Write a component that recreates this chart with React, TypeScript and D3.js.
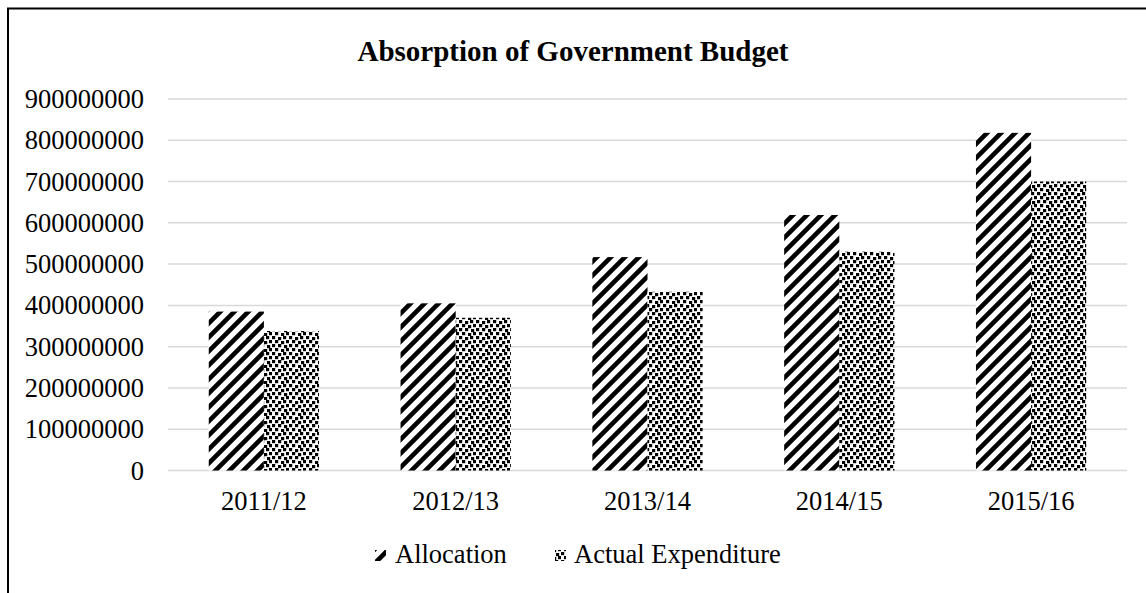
import React from "react";
import * as d3 from "d3";

const categories = ["2011/12", "2012/13", "2013/14", "2014/15", "2015/16"];
const allocation = [385000000, 405000000, 517000000, 619000000, 818000000];
const actualExpenditure = [338000000, 370000000, 433000000, 530000000, 700000000];
const seriesNames = ["Allocation", "Actual Expenditure"];
const yTicks = [0, 100000000, 200000000, 300000000, 400000000, 500000000, 600000000, 700000000, 800000000, 900000000];

const W = 1146;
const H = 593;
const plot = { left: 168, right: 1127, top: 99, bottom: 470.5 };
const FONT = "'Liberation Serif', 'Times New Roman', serif";
const txt = { fontFamily: FONT };

export default function App() {
  const x = d3.scaleBand<string>().domain(categories).range([plot.left, plot.right]).paddingInner(0).paddingOuter(0);
  const y = d3.scaleLinear().domain([0, 900000000]).range([plot.bottom, plot.top]);
  const barW = x.bandwidth() * 0.2875;
  const series = [
    { name: seriesNames[0], values: allocation, fill: "url(#diag)" },
    { name: seriesNames[1], values: actualExpenditure, fill: "url(#confetti)" },
  ];
  const confettiDots: [number, number][] = [
    [0, 0], [6, 1], [11, 0], [3, 4], [9, 5], [14, 4],
    [0, 8], [6, 8], [12, 9], [3, 12], [9, 13], [14, 12],
  ];
  return (
    <svg width={W} height={H} style={{ position: "absolute", left: 0, top: 0, background: "#fff", fontFamily: FONT }}>
      <defs>
        <pattern id="diag" patternUnits="userSpaceOnUse" width={14} height={14}>
          <rect width={14} height={14} fill="#fff" />
          <path d="M-2,2 L2,-2 M0,14 L14,0 M12,16 L16,12" stroke="#000" strokeWidth={4.6} />
        </pattern>
        <pattern id="confetti" patternUnits="userSpaceOnUse" width={17} height={16}>
          <rect width={17} height={16} fill="#fff" />
          {confettiDots.map(([cx, cy], i) => (
            <rect key={i} x={cx} y={cy} width={3.2} height={3.2} fill="#000" />
          ))}
        </pattern>
      </defs>
      <rect x={0} y={0} width={W} height={H} fill="#fff" />
      <path d={`M8,${H} L8,8.5 L${W},8.5`} fill="none" stroke="#000" strokeWidth={2} />
      <text x={573} y={61} textAnchor="middle" fontSize={29} fontWeight="bold" fill="#000" style={txt}>
        Absorption of Government Budget
      </text>
      {yTicks.map((t) => (
        <g key={t}>
          <line x1={plot.left} x2={plot.right} y1={y(t)} y2={y(t)} stroke="#d9d9d9" strokeWidth={1.5} />
          <text x={144} y={y(t) + 9} textAnchor="end" fontSize={26.5} fill="#000" style={txt}>
            {t}
          </text>
        </g>
      ))}
      {categories.map((c, i) => {
        const cx = (x(c) as number) + x.bandwidth() / 2;
        return (
          <g key={c}>
            {series.map((s, j) => (
              <rect
                key={s.name}
                x={cx - barW + j * barW}
                y={y(s.values[i])}
                width={barW}
                height={y(0) - y(s.values[i])}
                fill={s.fill}
              />
            ))}
            <text x={cx} y={510} textAnchor="middle" fontSize={26.5} fill="#000" style={txt}>
              {c}
            </text>
          </g>
        );
      })}
      <g>
        <rect x={375} y={550} width={11} height={11} fill="url(#diag)" />
        <text x={395} y={563} fontSize={26.5} fill="#000" style={txt}>{seriesNames[0]}</text>
        <rect x={555} y={550} width={11} height={11} fill="url(#confetti)" />
        <text x={574} y={563} fontSize={26.5} fill="#000" style={txt}>{seriesNames[1]}</text>
      </g>
    </svg>
  );
}
